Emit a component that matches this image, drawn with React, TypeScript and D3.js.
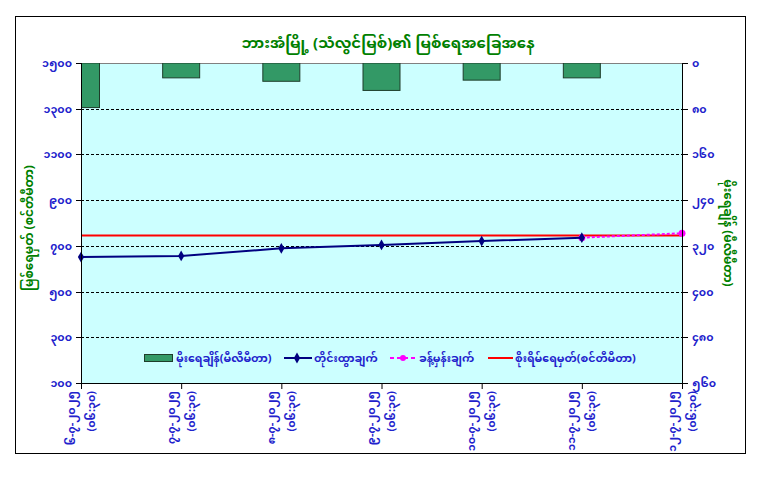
import React from 'react';
import * as d3 from 'd3';

// Hpa-an (Thanlwin river) water level, 6-7-2025 .. 12-7-2025
const dates = ['၆-၇-၂၀၂၅', '၇-၇-၂၀၂၅', '၈-၇-၂၀၂၅', '၉-၇-၂၀၂၅', '၁၀-၇-၂၀၂၅', '၁၁-၇-၂၀၂၅', '၁၂-၇-၂၀၂၅'];
const times = ['(၀၆:၃၀)', '(၀၆:၃၀)', '(၀၆:၃၀)', '(၀၆:၃၀)', '(၀၆:၃၀)', '(၀၆:၃၀)', '(၀၆:၃၀)'];
const rainfall: (number | null)[] = [78, 26, 32, 48, 30, 26, null];
const observed: (number | null)[] = [651, 656, 689, 704, 721, 736, null];
const forecast: (number | null)[] = [null, null, null, null, null, 736, 755];
const warning: number[] = [745, 745, 745, 745, 745, 745, 745];
const leftTicks = [100, 300, 500, 700, 900, 1100, 1300, 1500];
const rightTicks = [0, 80, 160, 240, 320, 400, 480, 560];

const title = 'ဘားအံမြို့ (သံလွင်မြစ်)၏ မြစ်ရေအခြေအနေ';
const leftTitle = 'မြစ်ရေမှတ် (စင်တီမီတာ)';
const rightTitle = 'မိုးရေချိန် (မီလီမီတာ)';
const legendNames = ['မိုးရေချိန်(မီလီမီတာ)', 'တိုင်းထွာချက်', 'ခန့်မှန်းချက်', 'စိုးရိမ်ရေမှတ်(စင်တီမီတာ)'];

const myDigits = (n: number) => String(n).replace(/[0-9]/g, d => String.fromCharCode(0x1040 + +d));

const FONT = '"Noto Sans Myanmar", "Padauk", "Myanmar Text", "Noto Sans", sans-serif';
const BLUE = '#2222cc';
const GREEN = '#008000';

const App: React.FC = () => {
  const W = 770, H = 491;
  const left = 81, right = 682, top = 63, bottom = 383;

  const x = d3.scalePoint<number>().domain(dates.map((_, i) => i)).range([left, right]);
  const yL = d3.scaleLinear().domain([100, 1500]).range([bottom, top]);
  const yR = d3.scaleLinear().domain([0, 560]).range([top, bottom]);

  const lineL = d3.line<number | null>()
    .defined(d => d != null)
    .x((_, i) => x(i)!)
    .y(d => yL(d as number));

  const diamond = d3.symbol(d3.symbolDiamond, 34)()!;
  const barW = 37;

  return (
    <div style={{ position: 'absolute', left: 0, top: 0 }}>
      <svg width={W} height={H} style={{ display: 'block', fontFamily: FONT }}>
        <rect x={0} y={0} width={W} height={H} fill="#fff" />
        <rect x={15.5} y={16.5} width={730} height={437} fill="#fff" stroke="#000" />

        <text x={388} y={48} textAnchor="middle" fontSize={15} fontWeight="bold" fill={GREEN}>{title}</text>

        <defs>
          <clipPath id="plot">
            <rect x={left} y={top} width={right - left} height={bottom - top} />
          </clipPath>
        </defs>

        <rect x={left} y={top} width={right - left} height={bottom - top} fill="#ccffff" />

        {/* gridlines */}
        {leftTicks.slice(1, -1).map(t => (
          <line key={t} x1={left} x2={right} y1={Math.round(yL(t)) + 0.5} y2={Math.round(yL(t)) + 0.5}
            stroke="#000" strokeDasharray="3,2" strokeWidth={1} />
        ))}
        <line x1={left} x2={right} y1={top + 0.5} y2={top + 0.5} stroke="#808080" />

        {/* rainfall bars, hanging from the top (reversed right axis) */}
        <g clipPath="url(#plot)">
          {rainfall.map((v, i) => v == null ? null : (
            <rect key={i} x={x(i)! - barW / 2} y={yR(0)} width={barW} height={yR(v) - yR(0)}
              fill="#339966" stroke="#1e3d2a" strokeWidth={1} />
          ))}
        </g>

        {/* warning level */}
        <path d={d3.line<number>().x((_, i) => x(i)!).y(d => yL(d))(warning)!} fill="none" stroke="#ff0000" strokeWidth={2} />

        {/* forecast */}
        <path d={lineL(forecast)!} fill="none" stroke="#ff00ff" strokeWidth={2} strokeDasharray="3,2" />
        {forecast.map((v, i) => v == null ? null : (
          <circle key={i} cx={x(i)} cy={yL(v)} r={3.5} fill="#ff00ff" />
        ))}

        {/* observed */}
        <path d={lineL(observed)!} fill="none" stroke="#000080" strokeWidth={2} />
        {observed.map((v, i) => v == null ? null : (
          <path key={i} d={diamond} transform={`translate(${x(i)},${yL(v)})`} fill="#000080" />
        ))}

        {/* axes */}
        <line x1={left + 0.5} x2={left + 0.5} y1={top} y2={bottom} stroke="#000" />
        <line x1={right + 0.5} x2={right + 0.5} y1={top} y2={bottom} stroke="#000" />
        <line x1={left} x2={right + 1} y1={bottom + 0.5} y2={bottom + 0.5} stroke="#000" />

        {leftTicks.map(t => (
          <g key={t} transform={`translate(0,${Math.round(yL(t)) + 0.5})`}>
            <line x1={left - 5} x2={left} stroke="#000" />
            <text x={left - 9} dy="0.35em" textAnchor="end" fontSize={11} fontWeight="bold" fill={BLUE}>{myDigits(t)}</text>
          </g>
        ))}
        {rightTicks.map(t => (
          <g key={t} transform={`translate(0,${Math.round(yR(t)) + 0.5})`}>
            <line x1={right} x2={right + 6} stroke="#000" />
            <text x={right + 10} dy="0.35em" textAnchor="start" fontSize={11} fontWeight="bold" fill={BLUE}>{myDigits(t)}</text>
          </g>
        ))}
        {dates.map((d, i) => (
          <g key={i} transform={`translate(${x(i)! + 0.5},${bottom})`}>
            <line y1={0} y2={6} stroke="#000" />
            <g transform="translate(0,8) rotate(-90)">
              <text x={0} y={-7} textAnchor="end" fontSize={11} fontWeight="bold" fill={BLUE}>{d}</text>
              <text x={0} y={13} textAnchor="end" fontSize={11} fontWeight="bold" fill={BLUE}>{times[i]}</text>
            </g>
          </g>
        ))}

        <text transform={`translate(33,${(top + bottom) / 2 + 5}) rotate(-90)`} textAnchor="middle" fontSize={12} fontWeight="bold" fill={GREEN}>{leftTitle}</text>
        <text transform={`translate(724,${(top + bottom) / 2 + 10}) rotate(90)`} textAnchor="middle" fontSize={12} fontWeight="bold" fill={GREEN}>{rightTitle}</text>

        {/* legend */}
        <g fontSize={11} fontWeight="bold" fill={BLUE}>
          <rect x={144.5} y={354.5} width={28} height={7} fill="#339966" stroke="#1e3d2a" />
          <text x={176} y={362}>{legendNames[0]}</text>
          <line x1={284} x2={312} y1={358} y2={358} stroke="#000080" strokeWidth={2} />
          <path d={diamond} transform="translate(297,358)" fill="#000080" />
          <text x={314} y={362}>{legendNames[1]}</text>
          <line x1={390} x2={418} y1={358} y2={358} stroke="#ff00ff" strokeWidth={2} strokeDasharray="4,3" />
          <circle cx={403} cy={358} r={3} fill="#ff00ff" />
          <text x={419} y={362}>{legendNames[2]}</text>
          <line x1={488} x2={513} y1={358} y2={358} stroke="#ff0000" strokeWidth={2} />
          <text x={515} y={362}>{legendNames[3]}</text>
        </g>
      </svg>
    </div>
  );
};

export default App;
